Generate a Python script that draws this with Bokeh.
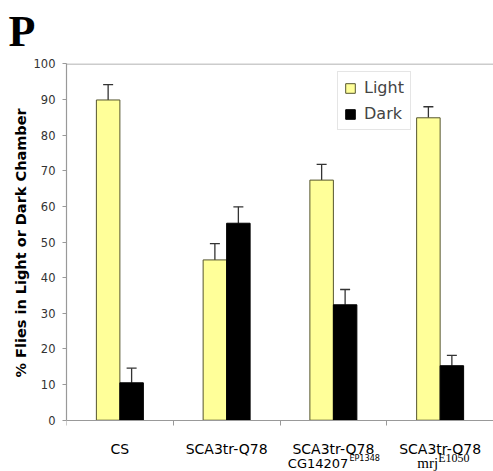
from bokeh.plotting import figure
from bokeh.models import (ColumnDataSource, Whisker, TeeHead, Label, Span,
                          FixedTicker, Range1d, Legend, LegendItem, Title)
from bokeh.embed import file_html
from bokeh.resources import INLINE

# ---- data ----
categories = ["CS", "SCA3tr-Q78", "SCA3tr-Q78", "SCA3tr-Q78"]
label_line2 = ["", "", "CG14207", "mrj"]
label_sup = ["", "", "EP1348", "E1050"]
light = [89.9, 45.0, 67.4, 84.9]
light_err = [4.3, 4.6, 4.4, 3.1]
dark = [10.5, 55.3, 32.4, 15.3]
dark_err = [4.1, 4.6, 4.3, 2.9]
y_ticks = [0, 10, 20, 30, 40, 50, 60, 70, 80, 90, 100]
series_names = ["Light", "Dark"]
y_title = "% Flies in Light or Dark Chamber"
panel_letter = "P"

n = len(categories)
idx = list(range(n))
off = 0.11
bw = 0.22
src = ColumnDataSource(dict(
    xl=[i + 0.5 - off for i in idx],
    xd=[i + 0.5 + off for i in idx],
    light=light, dark=dark,
    lu=[v + e for v, e in zip(light, light_err)],
    du=[v + e for v, e in zip(dark, dark_err)],
))

# frame extends below 0 so the two-line category labels can be drawn inside it
p = figure(width=493, height=471, output_backend="svg", toolbar_location=None,
           x_range=Range1d(0, n), y_range=Range1d(-14.4, 100.14),
           min_border_left=66, min_border_right=0, min_border_top=63,
           min_border_bottom=0)
p.outline_line_color = None
p.grid.visible = False
p.background_fill_color = "white"

p.title.text = panel_letter
p.title.align = "left"
p.title.offset = -58
p.title.vertical_align = "top"
p.title.standoff = 12
p.title.text_font = "Liberation Serif"
p.title.text_font_style = "bold"
p.title.text_font_size = "44px"
p.title.text_color = "black"

rl = p.vbar(x="xl", top="light", bottom=0, width=bw, source=src,
            fill_color="#FFFF99", line_color="#55552e", line_width=1)
rd = p.vbar(x="xd", top="dark", bottom=0, width=bw, source=src,
            fill_color="black", line_color="black", line_width=1)

for base, low, up in (("xl", "light", "lu"), ("xd", "dark", "du")):
    w = Whisker(base=base, lower=low, upper=up, source=src,
                upper_head=TeeHead(size=10, line_color="#333333", line_width=1.3),
                lower_head=None, line_color="#333333", line_width=1.3)
    p.add_layout(w)

p.add_layout(Span(location=100, dimension="width", line_color="#999999", line_width=1.2))

# x axis drawn at y = 0, ticks at the category boundaries
p.xaxis.fixed_location = 0
p.xaxis.ticker = FixedTicker(ticks=[], minor_ticks=idx + [n])
p.xaxis.major_tick_in = 0
p.xaxis.major_tick_out = 0
p.xaxis.major_label_standoff = 0
p.xaxis.minor_tick_in = 0
p.xaxis.minor_tick_out = 5
p.xaxis.minor_tick_line_color = "#999999"
p.xaxis.axis_line_color = "#999999"
p.xaxis.axis_line_width = 1.2

p.yaxis.ticker = FixedTicker(ticks=y_ticks)
p.yaxis.bounds = (0, 100)
p.yaxis.major_tick_in = 0
p.yaxis.major_tick_out = 4
p.yaxis.minor_tick_line_color = None
p.yaxis.axis_line_color = "#999999"
p.yaxis.major_tick_line_color = "#999999"
p.yaxis.axis_line_width = 1.2
p.yaxis.major_label_standoff = 7
p.yaxis.major_label_text_font = "DejaVu Sans"
p.yaxis.major_label_text_font_size = "11.5px"
p.yaxis.major_label_text_color = "#333333"

p.add_layout(Title(text=y_title, align="left", offset=94, standoff=4,
                   text_font="DejaVu Sans", text_font_style="bold",
                   text_font_size="14.5px", text_color="black"), "left")

# category labels
for i in idx:
    cx = i + 0.5
    p.add_layout(Label(x=cx, y=-8.1, text=categories[i], text_align="center",
                       text_baseline="alphabetic", text_font="DejaVu Sans",
                       text_font_size="14px", text_color="black"))
    if label_line2[i]:
        serif = label_line2[i] == "mrj"
        if serif:
            p.add_layout(Label(x=cx, y=-12.05, x_offset=-2, text=label_line2[i],
                               text_align="right", text_baseline="alphabetic",
                               text_font="Liberation Serif", text_font_size="15px",
                               text_color="black"))
            p.add_layout(Label(x=cx, y=-10.5, x_offset=-2, text=label_sup[i],
                               text_align="left", text_baseline="alphabetic",
                               text_font="Liberation Serif", text_font_size="12px",
                               text_color="black"))
        else:
            p.add_layout(Label(x=cx, y=-12.05, x_offset=15, text=label_line2[i],
                               text_align="right", text_baseline="alphabetic",
                               text_font="DejaVu Sans", text_font_size="13px",
                               text_color="black"))
            p.add_layout(Label(x=cx, y=-10.5, x_offset=16, text=label_sup[i],
                               text_align="left", text_baseline="alphabetic",
                               text_font="DejaVu Sans Condensed", text_font_size="9px",
                               text_color="black"))

legend = Legend(items=[LegendItem(label=series_names[0], renderers=[rl]),
                       LegendItem(label=series_names[1], renderers=[rd])],
                location=(271, 341), margin=0, padding=6, spacing=7,
                label_height=18, glyph_width=12, glyph_height=12,
                label_standoff=8, label_text_font="DejaVu Sans",
                label_text_font_size="16px", border_line_color="#cccccc",
                border_line_width=1.2, background_fill_alpha=1)
p.add_layout(legend)

open("out.html", "w").write(file_html(p, INLINE))
